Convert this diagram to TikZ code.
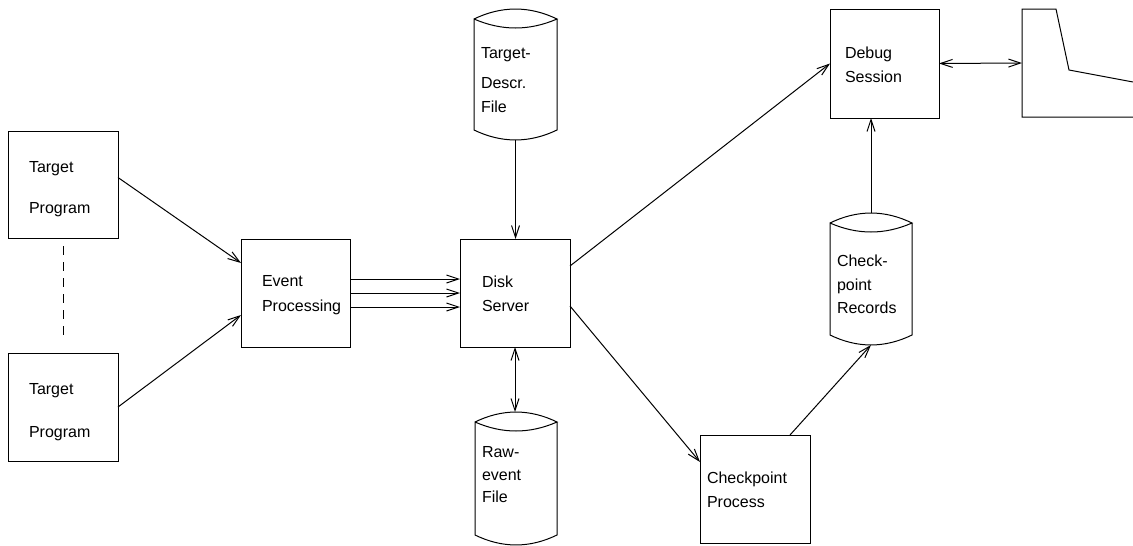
\documentclass[tikz,border=0pt]{standalone}
\usepackage{fontspec}
\setmainfont{Liberation Sans}
\usetikzlibrary{arrows.meta,calc}
\tikzset{
  ln/.style={line width=1pt, black},
  arr/.style={ln, -{Straight Barb[length=12pt,width=8pt]}},
  darr/.style={ln, {Straight Barb[length=12pt,width=8pt]}-{Straight Barb[length=12pt,width=8pt]}},
  box/.style={ln, draw, rectangle, anchor=north west, inner sep=0pt, outer sep=0pt},
  area/.style={rectangle, anchor=north west, inner sep=0pt, outer sep=0pt},
  txt/.style={anchor=base west, inner sep=0pt, outer sep=0pt, font=\fontsize{16}{19}\selectfont},
}
\newcommand\drumshape[4]{% #1=left #2=right #3=top peak #4=bottom dip
  \draw[ln] (#1,#3+10) .. controls ({#1+(#2-#1)/3},#3-3.3) and ({#2-(#2-#1)/3},#3-3.3) .. (#2,#3+10)
            .. controls ({#2-(#2-#1)/3},#3+22) and ({#1+(#2-#1)/3},#3+22) .. (#1,#3+10)
            -- (#1,#4-10)
            .. controls ({#1+(#2-#1)/3},#4+3.3) and ({#2-(#2-#1)/3},#4+3.3) .. (#2,#4-10)
            -- (#2,#3+10);
}
\begin{document}
\begin{tikzpicture}[x=1pt,y=-1pt]
\useasboundingbox (0,0) rectangle (1133,546);

% boxes
\node[box, minimum width=110pt, minimum height=107pt] (tp1) at (8,131) {};
\node[box, minimum width=110pt, minimum height=108pt] (tp2) at (8,353) {};
\node[box, minimum width=109pt, minimum height=108pt] (ep) at (241,239) {};
\node[box, minimum width=110pt, minimum height=108pt] (ds) at (460,239) {};
\node[box, minimum width=110pt, minimum height=108pt] (cp) at (700,435) {};
\node[box, minimum width=109pt, minimum height=109pt] (dbg) at (830,9) {};

% storage drums (areas + outlines)
\node[area, minimum width=83pt, minimum height=131pt] (tdf) at (474,9) {};
\drumshape{474}{557}{9}{140}
\node[area, minimum width=82pt, minimum height=133pt] (raw) at (475,412) {};
\drumshape{475}{557}{412}{545}
\node[area, minimum width=82pt, minimum height=132pt] (rec) at (830,213) {};
\drumshape{830}{912}{213}{345}

% terminal shape (cut off at right edge)
\node[area, minimum width=111pt, minimum height=108pt] (term) at (1022,9) {};
\draw[ln] (1133,82) -- (1069,70) -- (1056,9) -- (1022,9) -- (1022,117) -- (1133,117);

% texts
\node[txt] (tp1a) at (29,172) {Target};
\node[txt] (tp1b) at (29,213) {Program};
\node[txt] (tp2a) at (29,394) {Target};
\node[txt] (tp2b) at (29,437) {Program};
\node[txt] (epa) at (262,286) {Event};
\node[txt] (epb) at (262,311) {Processing};
\node[txt] (dsa) at (482,287) {Disk};
\node[txt] (dsb) at (482,311) {Server};
\node[txt] (tdfa) at (481,58) {Target-};
\node[txt] (tdfb) at (481,88) {Descr.};
\node[txt] (tdfc) at (481,112) {File};
\node[txt] (rawa) at (482,457) {Raw-};
\node[txt] (rawb) at (482,480) {event};
\node[txt] (rawc) at (482,502) {File};
\node[txt] (reca) at (837,266) {Check-};
\node[txt] (recb) at (837,290) {point};
\node[txt] (recc) at (837,313) {Records};
\node[txt] (cpa) at (707,483) {Checkpoint};
\node[txt] (cpb) at (707,507) {Process};
\node[txt] (dbga) at (845,58) {Debug};
\node[txt] (dbgb) at (845,82) {Session};

% connectors
\draw[ln, dash pattern=on 9pt off 7pt] ([yshift=-8pt]tp1.south) -- ([yshift=12pt]tp2.north);
\draw[arr] ([yshift=7pt]tp1.east) -- ([yshift=30pt]ep.west);
\draw[arr] (tp2.east) -- ([yshift=-22pt]ep.west);
\draw[arr] ([yshift=14pt]ep.east) -- ([yshift=14pt]ds.west);
\draw[arr] (ep.east) -- (ds.west);
\draw[arr] ([yshift=-14pt]ep.east) -- ([yshift=-14pt]ds.west);
\draw[arr] (tdf.south) -- (tdf.south |- ds.north);
\draw[darr] (ds.south) -- (ds.south |- raw.north);
\draw[arr] ([yshift=27pt]ds.east) -- (dbg.west);
\draw[arr] ([yshift=-13pt]ds.east) -- ([yshift=27pt]cp.west);
\draw[arr] ([xshift=35pt]cp.north) -- (rec.south);
\draw[arr] (rec.north) -- (rec.north |- dbg.south);
\draw[darr] (dbg.east) -- (term.west);
\end{tikzpicture}
\end{document}
